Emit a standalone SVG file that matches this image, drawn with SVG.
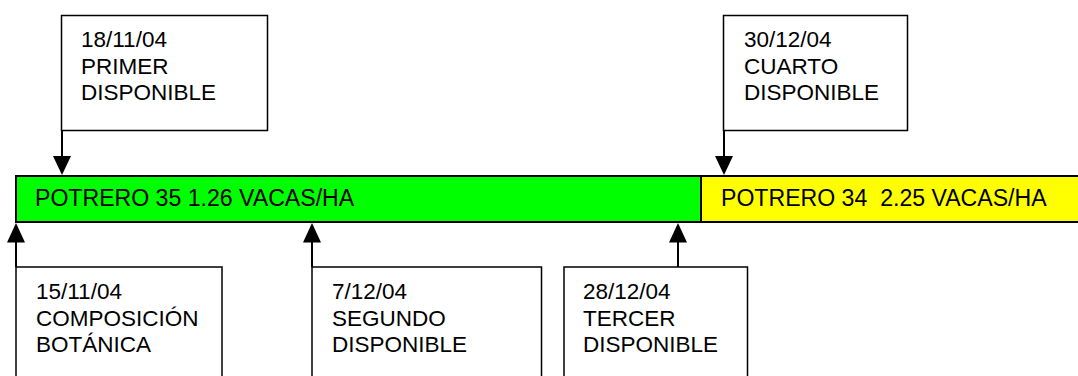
<svg xmlns="http://www.w3.org/2000/svg" width="1078" height="376" viewBox="0 0 1078 376">
<style>
.box{fill:#fff;stroke:#000;stroke-width:1.5}
.t{font-family:"Liberation Sans",Arial,sans-serif;font-size:22.5px;fill:#000;white-space:pre}
.b{font-size:23.1px}
.c{stroke:#000;stroke-width:2;fill:none}
.ah{fill:#000}
</style>
<rect width="1078" height="376" fill="#fff"/>
<g id="bar">
<rect id="potrero35" x="16" y="176" width="685" height="46" fill="#00ff00" stroke="#000" stroke-width="2"/>
<rect id="potrero34" x="701" y="176" width="378" height="46" fill="#ffff00" stroke="#000" stroke-width="2"/>
<text class="t b" x="35" y="206">POTRERO 35 1.26 VACAS/HA</text>
<text class="t b" x="721" y="206" xml:space="preserve">POTRERO 34  2.25 VACAS/HA</text>
</g>
<g id="n1">
<rect class="box" x="61.5" y="15.5" width="206" height="115"/>
<text class="t" x="81" y="47">18/11/04</text>
<text class="t" x="81" y="73.5">PRIMER</text>
<text class="t" x="81" y="100">DISPONIBLE</text>
</g>
<g id="n2">
<rect class="box" x="723.5" y="15.5" width="184" height="115"/>
<text class="t" x="744" y="47">30/12/04</text>
<text class="t" x="744" y="73.5">CUARTO</text>
<text class="t" x="744" y="100">DISPONIBLE</text>
</g>
<g id="n3">
<rect class="box" x="16" y="267" width="206" height="120"/>
<text class="t" x="36" y="299">15/11/04</text>
<text class="t" x="36" y="325.5">COMPOSICIÓN</text>
<text class="t" x="36" y="352">BOTÁNICA</text>
</g>
<g id="n4">
<rect class="box" x="312" y="267" width="229.5" height="120"/>
<text class="t" x="332" y="299">7/12/04</text>
<text class="t" x="332" y="325.5">SEGUNDO</text>
<text class="t" x="332" y="352">DISPONIBLE</text>
</g>
<g id="n5">
<rect class="box" x="564" y="267" width="183.5" height="120"/>
<text class="t" x="583" y="299">28/12/04</text>
<text class="t" x="583" y="325.5">TERCER</text>
<text class="t" x="583" y="352">DISPONIBLE</text>
</g>
<g id="connectors">
<line class="c" x1="62" y1="131" x2="62" y2="158"/>
<polygon class="ah" points="53,156 71,156 62,175"/>
<line class="c" x1="724" y1="131" x2="724" y2="158"/>
<polygon class="ah" points="715,156 733,156 724,175"/>
<line class="c" x1="16" y1="267" x2="16" y2="240"/>
<polygon class="ah" points="7,242.5 25,242.5 16,223"/>
<line class="c" x1="312" y1="267" x2="312" y2="240"/>
<polygon class="ah" points="303,242.5 321,242.5 312,223"/>
<line class="c" x1="678" y1="267" x2="678" y2="240"/>
<polygon class="ah" points="669,242.5 687,242.5 678,223"/>
</g>
</svg>
